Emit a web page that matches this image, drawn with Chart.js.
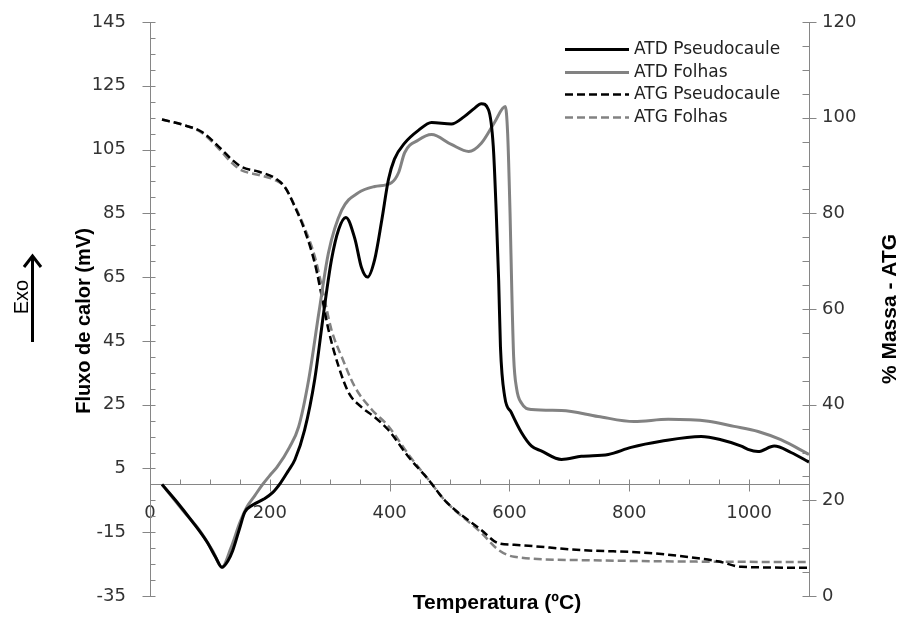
<!DOCTYPE html>
<html>
<head>
<meta charset="utf-8">
<script src="https://cdn.jsdelivr.net/npm/chart.js@4.4.1/dist/chart.umd.min.js"></script>
<style>
  html, body { margin: 0; padding: 0; background: #fff; }
  #wrap { width: 903px; height: 617px; }
</style>
</head>
<body>
<div id="wrap"><canvas id="tga-dta"></canvas></div>
<script>
// ATD / ATG — pseudocaule vs folhas
const xTicks = [0, 200, 400, 600, 800, 1000];
const leftTicks = [-35, -15, 5, 25, 45, 65, 85, 105, 125, 145];
const rightTicks = [0, 20, 40, 60, 80, 100, 120];

const atdPseudoT = [20, 45, 70, 95, 110, 120, 130, 138, 150, 158, 172, 190, 205, 218, 230, 242, 258, 275, 290, 303, 315, 327, 342, 353, 363, 375, 387, 398, 408, 425, 448, 470, 503, 525, 542, 553, 565, 573, 578, 582, 585, 592, 603, 620, 637, 653, 687, 720, 765, 803, 853, 920, 953, 987, 998, 1015, 1042, 1070, 1100];
const atdPseudoV = [0, -5.5, -11.5, -18, -23, -26, -24, -20.8, -13.5, -8.8, -6.4, -4.6, -2.5, 0.5, 4, 7.8, 17, 33, 54, 70.5, 80, 83.7, 77, 68, 65, 70.5, 83, 95.6, 102, 107, 111, 113.5, 113, 115.4, 118, 119.4, 117.5, 106, 85, 64, 43, 27.6, 22.6, 16.3, 12, 10.5, 7.8, 8.8, 9.4, 11.6, 13.5, 15, 14, 12, 11, 10.3, 12, 10, 7];

const atdFolhasT = [20, 55, 83, 105, 120, 135, 150, 162, 175, 188, 200, 212, 233, 248, 265, 282, 298, 320, 348, 375, 403, 415, 425, 448, 470, 503, 532, 553, 575, 593, 597, 601, 604, 607, 612, 620, 637, 687, 748, 808, 865, 932, 975, 1015, 1053, 1100];
const atdFolhasV = [0, -8.2, -14.5, -21, -26, -20, -12, -7, -3.5, 0, 2.8, 5.4, 11.7, 18, 33, 54, 72.7, 86, 91.5, 93.4, 94.6, 97.8, 104, 108, 109.7, 106.6, 104.4, 107, 113.5, 118.5, 110, 85, 60, 40, 30, 25.5, 23.5, 23.2, 21.3, 19.7, 20.4, 19.8, 18.2, 16.6, 14, 9.4];

const atgPseudoT = [20, 58, 87, 115, 137, 153, 182, 208, 225, 242, 258, 275, 287, 298, 315, 332, 353, 375, 398, 432, 465, 492, 553, 582, 608, 720, 832, 915, 950, 987, 1100];
const atgPseudoV = [99.6, 98.4, 97, 93.9, 91.2, 89.7, 88.7, 87.4, 85.5, 81.3, 76.5, 69.6, 62.5, 55.6, 47.9, 42.4, 39.5, 37.4, 34.7, 29, 24.3, 20, 13.8, 11, 10.7, 9.6, 9, 7.9, 7.2, 6.1, 5.9];

const atgFolhasT = [20, 58, 87, 115, 137, 153, 182, 208, 225, 242, 258, 275, 287, 303, 320, 342, 370, 398, 432, 465, 492, 553, 582, 608, 720, 900, 1100];
const atgFolhasV = [99.6, 98.4, 96.8, 93.5, 90.5, 89, 88, 87, 85.5, 81.5, 77, 71, 64.6, 55.6, 50, 43.7, 39, 35.5, 29.5, 24.3, 20, 13.2, 9.6, 8.2, 7.5, 7.2, 7.1];

const BLACK = '#000000';
const GRAY = '#828282';
const AXIS = '#868686';

const pts = (xs, ys) => xs.map((x, i) => ({ x, y: ys[i] }));

// minor ticks, titles, legend, Exo arrow
const extras = {
    id: 'extras',
    afterDraw(chart) {
        const { ctx, chartArea: a, scales } = chart;
        const sx = scales.x, sy = scales.y, sy2 = scales.y2;
        ctx.save();
        ctx.strokeStyle = AXIS;
        ctx.lineWidth = 1;
        ctx.beginPath();
        const xl = Math.round(a.left) + 0.5;
        for (let v = -35; v <= 145; v += 5) {
            const p = Math.round(sy.getPixelForValue(v)) + 0.5;
            const major = leftTicks.includes(v);
            ctx.moveTo(major ? xl - 8 : xl, p);
            ctx.lineTo(xl + 5, p);
        }
        const xr = Math.round(a.right) + 0.5;
        for (let v = 0; v <= 120; v += 5) {
            const p = Math.round(sy2.getPixelForValue(v)) + 0.5;
            const major = rightTicks.includes(v);
            ctx.moveTo(xr - 7, p);
            ctx.lineTo(major ? xr + 7 : xr, p);
        }
        const y0 = Math.round(sy.getPixelForValue(0)) + 0.5;
        for (let v = 50; v <= 1100; v += 50) {
            const p = Math.round(sx.getPixelForValue(v)) + 0.5;
            const major = xTicks.includes(v);
            ctx.moveTo(p, y0 - 5);
            ctx.lineTo(p, major ? y0 + 7 : y0);
        }
        ctx.stroke();

        // axis titles
        ctx.fillStyle = '#000';
        ctx.textAlign = 'center';
        ctx.textBaseline = 'middle';
        ctx.font = 'bold 21px "Liberation Sans", Arial, sans-serif';
        ctx.fillText('Temperatura (ºC)', 497, 603);
        ctx.save();
        ctx.translate(84, 321);
        ctx.rotate(-Math.PI / 2);
        ctx.font = 'bold 20px "Liberation Sans", Arial, sans-serif';
        ctx.fillText('Fluxo de calor (mV)', 0, 0);
        ctx.restore();
        ctx.save();
        ctx.translate(890, 309);
        ctx.rotate(-Math.PI / 2);
        ctx.font = 'bold 21px "Liberation Sans", Arial, sans-serif';
        ctx.fillText('% Massa - ATG', 0, 0);
        ctx.restore();

        // Exo arrow
        ctx.save();
        ctx.translate(22, 297);
        ctx.rotate(-Math.PI / 2);
        ctx.font = '20px "Liberation Sans", Arial, sans-serif';
        ctx.fillText('Exo', 0, 0);
        ctx.restore();
        ctx.strokeStyle = '#000';
        ctx.lineWidth = 3;
        ctx.beginPath();
        ctx.moveTo(32.5, 342);
        ctx.lineTo(32.5, 256);
        ctx.moveTo(24, 267);
        ctx.lineTo(32.5, 256);
        ctx.lineTo(41, 267);
        ctx.stroke();

        // legend
        const rows = [49, 72, 94, 117];
        ctx.font = '17px "DejaVu Sans", sans-serif';
        ctx.textAlign = 'left';
        ctx.fillStyle = '#222';
        chart.data.datasets.forEach((ds, i) => {
            const y = rows[i] + 0.5;
            ctx.strokeStyle = ds.borderColor;
            ctx.lineWidth = ds.borderWidth;
            ctx.setLineDash(ds.borderDash || []);
            ctx.beginPath();
            ctx.moveTo(565, y);
            ctx.lineTo(629, y);
            ctx.stroke();
            ctx.setLineDash([]);
            ctx.fillText(ds.label, 634, y);
        });
        ctx.restore();
    },
};

const tickFont = { family: '"DejaVu Sans", sans-serif', size: 18 };
const noPadV = (w) => (s) => { s.width = w; s.paddingTop = 0; s.paddingBottom = 0; };

new Chart(document.getElementById('tga-dta').getContext('2d'), {
    type: 'line',
    data: {
        datasets: [
            { label: 'ATD Pseudocaule', data: pts(atdPseudoT, atdPseudoV), yAxisID: 'y', borderColor: BLACK, borderWidth: 3 },
            { label: 'ATD Folhas', data: pts(atdFolhasT, atdFolhasV), yAxisID: 'y', borderColor: GRAY, borderWidth: 3 },
            { label: 'ATG Pseudocaule', data: pts(atgPseudoT, atgPseudoV), yAxisID: 'y2', borderColor: BLACK, borderWidth: 2.5, borderDash: [8, 4] },
            { label: 'ATG Folhas', data: pts(atgFolhasT, atgFolhasV), yAxisID: 'y2', borderColor: GRAY, borderWidth: 2.5, borderDash: [8, 4] },
        ],
    },
    options: {
        responsive: true,
        maintainAspectRatio: false,
        animation: false,
        layout: { padding: { top: 22, left: 0, right: 0, bottom: 0 } },
        elements: {
            point: { radius: 0 },
            line: { cubicInterpolationMode: 'monotone', fill: false },
        },
        plugins: { legend: { display: false }, tooltip: { enabled: false } },
        scales: {
            x: {
                type: 'linear',
                position: { y: 0 },
                min: 0,
                max: 1100,
                afterBuildTicks: (s) => { s.ticks = xTicks.map((v) => ({ value: v })); },
                afterFit: (s) => { s.paddingLeft = 0; s.paddingRight = 0; },
                grid: { display: true, drawOnChartArea: false, drawTicks: false },
                border: { color: AXIS },
                ticks: { font: tickFont, color: '#333', padding: 18, maxRotation: 0, callback: (v) => String(v) },
            },
            xb: {
                type: 'linear',
                position: 'bottom',
                min: 0,
                max: 1,
                grid: { display: false },
                border: { display: false },
                ticks: { display: false },
                afterFit: (s) => { s.height = 21; s.paddingLeft = 0; s.paddingRight = 0; },
            },
            y: {
                type: 'linear',
                position: 'left',
                min: -35,
                max: 145,
                afterBuildTicks: (s) => { s.ticks = leftTicks.map((v) => ({ value: v })); },
                afterFit: noPadV(150),
                grid: { display: true, drawOnChartArea: false, drawTicks: false },
                border: { color: AXIS },
                ticks: { font: tickFont, color: '#333', padding: 24, callback: (v) => String(v) },
            },
            y2: {
                type: 'linear',
                position: 'right',
                min: 0,
                max: 120,
                afterBuildTicks: (s) => { s.ticks = rightTicks.map((v) => ({ value: v })); },
                afterFit: noPadV(94),
                grid: { display: true, drawOnChartArea: false, drawTicks: false },
                border: { color: AXIS },
                ticks: { font: tickFont, color: '#333', padding: 13, callback: (v) => String(v) },
            },
        },
    },
    plugins: [extras],
});
</script>
</body>
</html>
